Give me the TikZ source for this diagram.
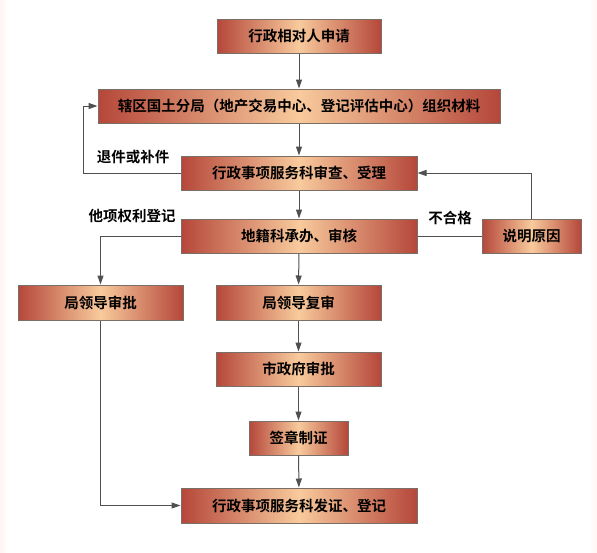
\documentclass[tikz,border=0pt]{standalone}
\usepackage{fontspec}
\setmainfont{Noto Sans CJK SC}[BoldFont={* Bold}]
\usetikzlibrary{arrows.meta}
\definecolor{edgered}{HTML}{B5473A}
\definecolor{peach}{HTML}{F8CA9C}
\definecolor{bordergray}{HTML}{7A6E68}
\definecolor{linegray}{HTML}{505050}
\tikzset{
  box/.style={draw=bordergray, line width=1pt, left color=edgered, right color=edgered, middle color=peach,
    minimum height=34pt, inner sep=0pt, font=\fontsize{14.5}{16}\selectfont\bfseries, text=black},
  arr/.style={draw=linegray, line width=1pt, -{Triangle[length=9pt,width=6pt]}},
  ln/.style={draw=linegray, line width=1pt},
  lbl/.style={font=\fontsize{14.5}{16}\selectfont\bfseries, text=black, inner sep=0pt}
}
\begin{document}
\begin{tikzpicture}[x=1pt,y=-1pt]
\useasboundingbox (0,0) rectangle (597,552);
\fill[white] (0,0) rectangle (597,552);
\shade[left color=red!4, right color=white] (0,0) rectangle (9,552);
\shade[left color=white, right color=red!4] (589,0) rectangle (597,552);

\node[box, minimum width=164pt] (b1) at (299,36) {行政相对人申请};
\node[box, minimum width=402pt] (b2) at (299,106) {辖区国土分局（地产交易中心、登记评估中心）组织材料};
\node[box, minimum width=236pt] (b3) at (299,173) {行政事项服务科审查、受理};
\node[box, minimum width=236pt] (b4) at (299,236) {地籍科承办、审核};
\node[box, minimum width=99pt] (b5) at (531.5,236) {说明原因};
\node[box, minimum width=165pt, minimum height=35pt] (b6) at (100.5,302.5) {局领导审批};
\node[box, minimum width=165pt, minimum height=35pt] (b7) at (298.5,302.5) {局领导复审};
\node[box, minimum width=165pt] (b8) at (298.5,369) {市政府审批};
\node[box, minimum width=99pt] (b9) at (298.5,438) {签章制证};
\node[box, minimum width=236pt, minimum height=35pt] (b10) at (299,505.5) {行政事项服务科发证、登记};

\node[lbl] (l1) at (133,157) {退件或补件};
\node[lbl] (l2) at (132,216) {他项权利登记};
\node[lbl] (l3) at (450,218) {不合格};

\coordinate (c1) at (83,173);

\draw[arr] (b1) -- (b2);
\draw[arr] (b2) -- (b3);
\draw[arr] (b3.west) -- (c1) |- (b2.west);
\draw[arr] (b3) -- (b4);
\draw[ln] (b4.east) -- (b5.west);
\draw[arr] (b5.north) |- (b3.east);
\draw[arr] (b4.west) -| (b6.north);
\draw[arr] (b4) -- (b7);
\draw[arr] (b7) -- (b8);
\draw[arr] (b8) -- (b9);
\draw[arr] (b9) -- (b10);
\draw[arr] (b6.south) |- (b10.west);
\end{tikzpicture}
\end{document}
